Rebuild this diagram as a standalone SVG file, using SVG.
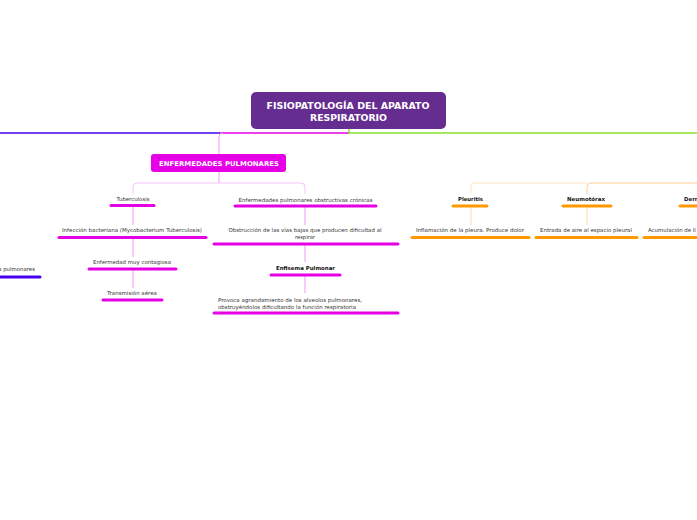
<svg xmlns="http://www.w3.org/2000/svg" width="697" height="520" viewBox="0 0 697 520">
<style>
.t{font-family:"DejaVu Sans",Verdana,sans-serif;font-size:5.4px;fill:#333;text-anchor:middle}
.b{font-weight:bold;fill:#111}
.l{text-anchor:start}
.e{text-anchor:end}
.bm{stroke:#e600e6;stroke-width:3;stroke-linecap:round;fill:none}
.bo{stroke:#ff9900;stroke-width:3;stroke-linecap:round;fill:none}
.bb{stroke:#4400ee;stroke-width:3;stroke-linecap:round;fill:none}
.cm{stroke:#f29af2;stroke-width:1;fill:none}
.co{stroke:#fdd9a6;stroke-width:1;fill:none}
</style>
<rect width="697" height="520" fill="#fff"/>
<g id="connectors">
<path d="M0 133 H220" stroke="#4400ee" stroke-width="1.5" fill="none"/>
<path d="M220 133 H349" stroke="#e600e6" stroke-width="1.5" fill="none"/>
<path d="M349 129 V133 H697" stroke="#88e02a" stroke-width="1.5" fill="none"/>
<path d="M219 154 V137 Q219 133 223 133" class="cm"/>
<path d="M219 172 V183" class="cm"/>
<path d="M133 194 V187 Q133 183 137 183 H301 Q305 183 305 187 V194" stroke="#f6c2f6" stroke-width="1" fill="none"/>
<path d="M133 207 V225 M133 239 V257 M133 270 V288" class="cm"/>
<path d="M305 207 V225 M305 245 V262 M305 276 V293" class="cm"/>
<path d="M471 194 V187 Q471 183 475 183 H587" stroke="#fde5c4" stroke-width="1" fill="none"/>
<path d="M587 194 V187 Q587 183 591 183 H697" stroke="#fcd08e" stroke-width="1" fill="none"/>
<path d="M471 207 V225 M587 207 V225" class="co"/>
</g>
<g id="root">
<rect x="251" y="92" width="195" height="37" rx="5" fill="#662d91"/>
<text x="348" y="109" class="t b" style="fill:#fff;font-size:8.2px" textLength="163" lengthAdjust="spacingAndGlyphs">FISIOPATOLOGÍA DEL APARATO</text>
<text x="348.5" y="121" class="t b" style="fill:#fff;font-size:8.2px" textLength="77" lengthAdjust="spacingAndGlyphs">RESPIRATORIO</text>
</g>
<g id="enfermedades">
<rect x="151" y="154" width="135" height="18" rx="3" fill="#e600e6"/>
<text x="219" y="166" class="t b" style="fill:#fff;font-size:6.5px" textLength="120" lengthAdjust="spacingAndGlyphs">ENFERMEDADES PULMONARES</text>
</g>
<g id="tuberculosis">
<text x="133" y="201" class="t" textLength="33" lengthAdjust="spacingAndGlyphs">Tuberculosis</text>
<path d="M111 205.5 H154" class="bm"/>
</g>
<g id="infeccion">
<text x="132" y="231.5" class="t" textLength="140" lengthAdjust="spacingAndGlyphs">Infección bacteriana (Mycobacterium Tuberculosis)</text>
<path d="M59 237.5 H206" class="bm"/>
</g>
<g id="contagiosa">
<text x="132" y="264" class="t" textLength="78" lengthAdjust="spacingAndGlyphs">Enfermedad muy contagiosa</text>
<path d="M89 269 H176" class="bm"/>
</g>
<g id="transmision">
<text x="132" y="295" class="t" textLength="50" lengthAdjust="spacingAndGlyphs">Transmisión aérea</text>
<path d="M103 300 H162" class="bm"/>
</g>
<g id="epoc">
<text x="305.5" y="201.5" class="t" textLength="134" lengthAdjust="spacingAndGlyphs">Enfermedades pulmonares obstructivas crónicas</text>
<path d="M235 206 H376" class="bm"/>
</g>
<g id="obstruccion">
<text x="305" y="232" class="t" textLength="153" lengthAdjust="spacingAndGlyphs">Obstrucción de las vías bajas que producen dificultad al</text>
<text x="305" y="239" class="t" textLength="20" lengthAdjust="spacingAndGlyphs">respirar</text>
<path d="M214 244 H398" class="bm"/>
</g>
<g id="enfisema">
<text x="305.5" y="270" class="t b" textLength="59" lengthAdjust="spacingAndGlyphs">Enfisema Pulmonar</text>
<path d="M271 275 H340" class="bm"/>
</g>
<g id="provoca">
<text x="218" y="302" class="t l" textLength="144" lengthAdjust="spacingAndGlyphs">Provoca agrandamiento de los alveolos pulmonares,</text>
<text x="218" y="308.5" class="t l" textLength="138" lengthAdjust="spacingAndGlyphs">obstruyéndolos dificultando la función respiratoria</text>
<path d="M214 313 H398" class="bm"/>
</g>
<g id="left-node">
<text x="35" y="271" class="t e">s pulmonares</text>
<path d="M-2 277 H40" class="bb"/>
</g>
<g id="pleuritis">
<text x="470.5" y="201" class="t b" textLength="25" lengthAdjust="spacingAndGlyphs">Pleuritis</text>
<path d="M453 206 H487" class="bo"/>
</g>
<g id="inflamacion">
<text x="470" y="232" class="t" textLength="108" lengthAdjust="spacingAndGlyphs">Inflamación de la pleura. Produce dolor</text>
<path d="M412 237.5 H529" class="bo"/>
</g>
<g id="neumotorax">
<text x="586" y="201" class="t b" textLength="38" lengthAdjust="spacingAndGlyphs">Neumotórax</text>
<path d="M563 206 H611" class="bo"/>
</g>
<g id="entrada">
<text x="586" y="232" class="t" textLength="92" lengthAdjust="spacingAndGlyphs">Entrada de aire al espacio pleural</text>
<path d="M536 237.5 H637" class="bo"/>
</g>
<g id="derrame">
<text x="684" y="201" class="t b l">Derr</text>
<path d="M680 206 H700" class="bo"/>
</g>
<g id="acumulacion">
<text x="648" y="232" class="t l">Acumulación de lí</text>
<path d="M644 237.5 H700" class="bo"/>
</g>
</svg>
